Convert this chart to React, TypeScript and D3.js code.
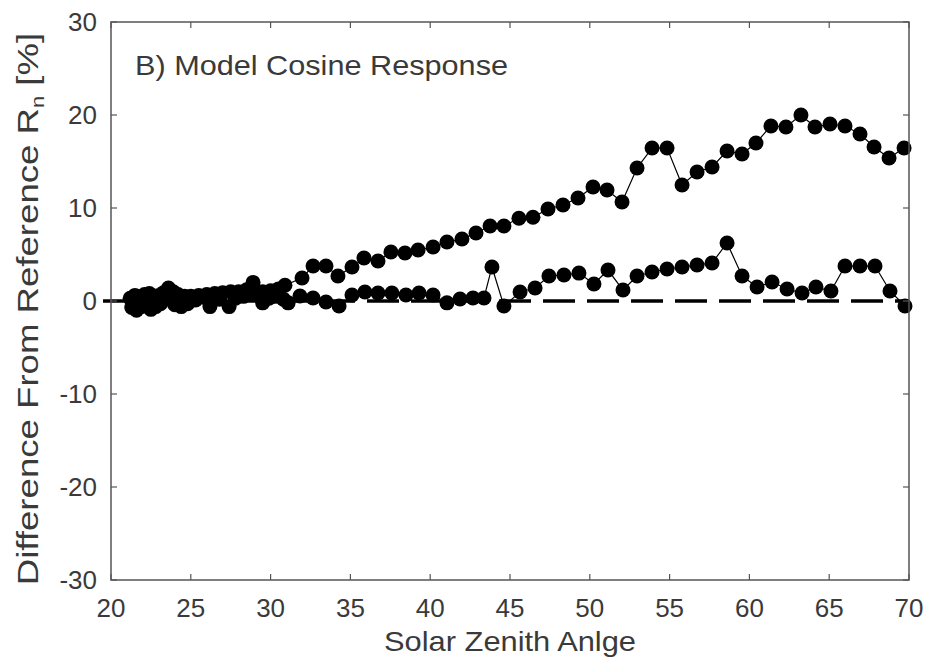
import React from "react";
import * as d3 from "d3";

const xTicks = [20, 25, 30, 35, 40, 45, 50, 55, 60, 65, 70];
const yTicks = [-30, -20, -10, 0, 10, 20, 30];

const upperX = [21.2, 21.5, 21.8, 22.1, 22.4, 22.7, 23.0, 23.3, 23.6, 23.9, 24.2, 24.6, 25.0, 25.5, 26.0, 26.5, 27.0, 27.5, 28.0, 28.5, 28.9, 29.5, 30.0, 30.5, 30.9,
  31.97, 32.66, 33.47, 34.22, 35.1, 35.85, 36.73, 37.54, 38.42, 39.24, 40.18, 41.05, 41.99, 42.87, 43.75, 44.62,
  45.56, 46.44, 47.38, 48.32, 49.26, 50.2, 51.08, 52.02, 52.96, 53.9, 54.84, 55.78, 56.72, 57.66, 58.6, 59.54,
  60.41, 61.35, 62.29, 63.23, 64.11, 65.05, 65.99, 66.93, 67.81, 68.75, 69.69];
const upperY = [0.3, 0.6, 0.4, 0.7, 0.8, 0.5, 0.6, 0.9, 1.4, 1.0, 0.7, 0.5, 0.5, 0.6, 0.7, 0.8, 0.9, 1.0, 1.0, 1.2, 2.0, 1.0, 1.1, 1.3, 1.7,
  2.47, 3.76, 3.76, 2.69, 3.66, 4.62, 4.3, 5.27, 5.16, 5.48, 5.8, 6.34, 6.67, 7.31, 8.06, 8.06,
  8.9, 9.0, 9.89, 10.32, 11.08, 12.26, 11.94, 10.65, 14.3, 16.45, 16.45, 12.47, 13.87, 14.41, 16.13, 15.8,
  16.99, 18.82, 18.71, 20.0, 18.71, 19.03, 18.82, 17.96, 16.56, 15.38, 16.45];

const lowerX = [21.3, 21.6, 21.9, 22.2, 22.5, 22.8, 23.1, 23.4, 23.7, 24.0, 24.4, 24.8, 25.3, 25.8, 26.2, 26.8, 27.4, 27.8, 28.3, 28.8, 29.5, 29.9, 30.3, 30.8, 31.1,
  31.84, 32.66, 33.47, 34.29, 35.1, 35.91, 36.73, 37.6, 38.48, 39.3, 40.18, 41.05, 41.87, 42.68, 43.37, 43.87, 44.62,
  45.63, 46.57, 47.44, 48.38, 49.32, 50.26, 51.14, 52.08, 52.96, 53.9, 54.84, 55.78, 56.72, 57.66, 58.6, 59.54,
  60.48, 61.42, 62.36, 63.3, 64.17, 65.11, 65.99, 66.93, 67.87, 68.81, 69.75];
const lowerY = [-0.7, -1.0, -0.6, -0.2, -0.9, -0.6, -0.3, 0.2, 0.5, -0.4, -0.6, -0.3, 0.1, 0.4, -0.6, 0.2, -0.6, 0.3, 0.5, 0.7, -0.2, 0.3, 0.5, 0.2, -0.2,
  0.54, 0.32, -0.1, -0.54, 0.65, 0.97, 0.86, 0.86, 0.65, 0.86, 0.65, -0.2, 0.22, 0.32, 0.32, 3.66, -0.54,
  0.97, 1.4, 2.69, 2.8, 3.0, 1.83, 3.33, 1.18, 2.69, 3.12, 3.44, 3.66, 3.87, 4.09, 6.24, 2.69,
  1.5, 2.04, 1.29, 0.86, 1.5, 1.08, 3.76, 3.76, 3.76, 1.08, -0.54];

const W = 926, H = 666;
const L = 111, R = 909, T = 22, B = 580;
const textColor = "#3a3a3a";
const axisColor = "#555";
const font = "'Liberation Sans', Arial, sans-serif";

export default function App() {
  const x = d3.scaleLinear().domain([20, 70]).range([L, R]);
  const y = d3.scaleLinear().domain([-30, 30]).range([B, T]);
  const upper = upperX.map((v, i) => [v, upperY[i]] as [number, number]);
  const lower = lowerX.map((v, i) => [v, lowerY[i]] as [number, number]);
  const line = d3.line<[number, number]>().x(d => x(d[0])).y(d => y(d[1]));
  const tick = 6;
  return (
    <svg width={W} height={H} style={{ position: "absolute", left: 0, top: 0, background: "#fff" }}>
      <rect x={0} y={0} width={W} height={H} fill="#fff" />
      <line x1={x(19.5)} x2={x(70)} y1={y(0)} y2={y(0)} stroke="#000" strokeWidth={3.5} strokeDasharray="32,12" />
      {[upper, lower].map((s, k) => (
        <g key={k}>
          <path d={line(s) || ""} fill="none" stroke="#000" strokeWidth={1.2} />
          {s.map((d, i) => (
            <circle key={i} cx={x(d[0])} cy={y(d[1])} r={7.5} fill="#000" />
          ))}
        </g>
      ))}
      <rect x={L} y={T} width={R - L} height={B - T} fill="none" stroke={axisColor} strokeWidth={1.5} />
      {xTicks.map(t => (
        <g key={"xt" + t}>
          <line x1={x(t)} x2={x(t)} y1={B} y2={B - tick} stroke={axisColor} strokeWidth={1.2} />
          <line x1={x(t)} x2={x(t)} y1={T} y2={T + tick} stroke={axisColor} strokeWidth={1.2} />
          <text x={x(t)} y={617} textAnchor="middle" fontSize={26} fill={textColor} fontFamily={font}>{t}</text>
        </g>
      ))}
      {yTicks.map(t => (
        <g key={"yt" + t}>
          <line x1={L} x2={L + tick} y1={y(t)} y2={y(t)} stroke={axisColor} strokeWidth={1.2} />
          <line x1={R} x2={R - tick} y1={y(t)} y2={y(t)} stroke={axisColor} strokeWidth={1.2} />
          <text x={97} y={y(t) + 9} textAnchor="end" fontSize={26} fill={textColor} fontFamily={font}>{t}</text>
        </g>
      ))}
      <text x={135} y={75} fontSize={28} fill={textColor} fontFamily={font} textLength={373} lengthAdjust="spacingAndGlyphs">B) Model Cosine Response</text>
      <text x={510} y={651} textAnchor="middle" fontSize={28} fill={textColor} fontFamily={font} textLength={252} lengthAdjust="spacingAndGlyphs">Solar Zenith Anlge</text>
      <g transform={`translate(38,${309}) rotate(-90) scale(1.22,1)`}>
        <text x={0} y={0} textAnchor="middle" fontSize={30} fill={textColor} fontFamily={font}>
          Difference From Reference R<tspan fontSize={18} dy={6}>n</tspan><tspan dy={-6}> [%]</tspan>
        </text>
      </g>
    </svg>
  );
}
